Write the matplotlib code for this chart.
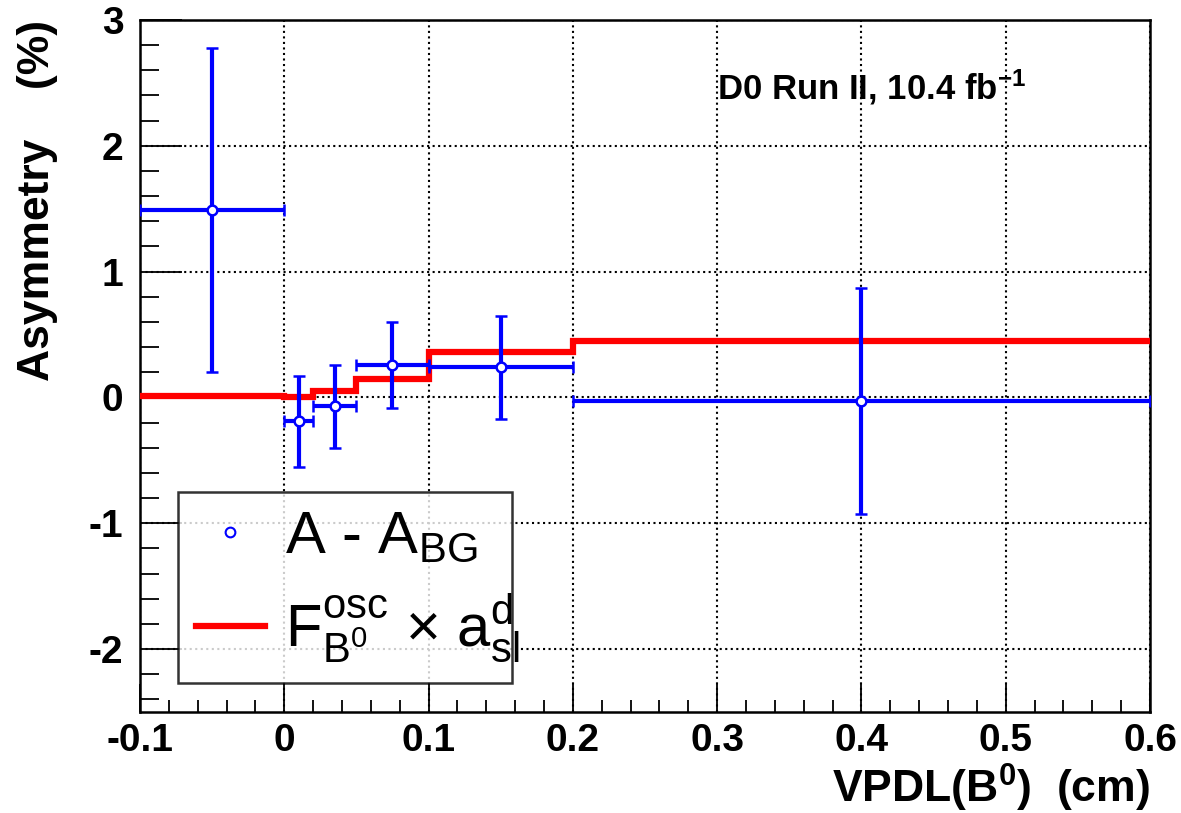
import matplotlib.pyplot as plt
from matplotlib.ticker import MultipleLocator
import numpy as np

plt.rcParams['font.family'] = ['Liberation Sans', 'DejaVu Sans']
plt.rcParams['mathtext.fontset'] = 'custom'
plt.rcParams['mathtext.rm'] = 'Liberation Sans'
plt.rcParams['mathtext.it'] = 'Liberation Sans'
plt.rcParams['mathtext.bf'] = 'Liberation Sans:bold'

# data points (A - A_BG), bins in VPDL
bin_lo = [-0.1, 0.0, 0.02, 0.05, 0.1, 0.2]
bin_hi = [0.0, 0.02, 0.05, 0.1, 0.2, 0.6]
asym = [1.49, -0.19, -0.07, 0.26, 0.24, -0.03]
asym_err = [1.29, 0.36, 0.33, 0.34, 0.41, 0.90]

# expected F_osc * a_sl^d per bin
model = [0.015, 0.0, 0.05, 0.15, 0.36, 0.45]

lo = np.array(bin_lo)
hi = np.array(bin_hi)
xc = (lo + hi) / 2
xe = (hi - lo) / 2

fig = plt.figure(figsize=(11.81, 8.13), dpi=100)
ax = fig.add_axes([0.1185, 0.1242, 0.8552, 0.8512])

# step line
edges = list(bin_lo) + [bin_hi[-1]]
ax.stairs(model, edges, color='red', lw=4.5, baseline=None, zorder=3)

ax.errorbar(xc, asym, xerr=xe, yerr=asym_err, fmt='o', color='blue',
            mfc='white', mec='blue', ms=7, mew=1.8, elinewidth=3,
            capsize=4, capthick=5, zorder=4)

ax.set_xlim(-0.1, 0.6)
ax.set_ylim(-2.5, 3)
ax.xaxis.set_major_locator(MultipleLocator(0.1))
ax.xaxis.set_minor_locator(MultipleLocator(0.02))
ax.yaxis.set_major_locator(MultipleLocator(1))
ax.yaxis.set_minor_locator(MultipleLocator(0.2))
ax.tick_params(which='both', direction='in', top=False, right=False,
               labelsize=28, width=1.3)
ax.tick_params(axis='y', which='major', length=30, pad=12)
ax.tick_params(axis='y', which='minor', length=14)
ax.tick_params(axis='x', which='major', length=20, pad=8)
ax.tick_params(axis='x', which='minor', length=9)
ax.set_xticks(np.arange(-0.1, 0.61, 0.1))
ax.set_xticklabels(['-0.1', '0', '0.1', '0.2', '0.3', '0.4', '0.5', '0.6'],
                   fontweight='bold')
ax.set_yticks([-2, -1, 0, 1, 2, 3])
ax.set_yticklabels(['-2', '-1', '0', '1', '2', '3'], fontweight='bold')
ax.grid(True, which='major', color='black', linestyle=':', linewidth=1.5)
for s in ax.spines.values():
    s.set_linewidth(1.8)

ax.set_xlabel(r'VPDL(B$^{\mathbf{0}}$)  (cm)', fontsize=32, fontweight='bold',
              loc='right', labelpad=2)
ax.set_ylabel('Asymmetry    (%)', fontsize=32, fontweight='bold',
              loc='top', labelpad=22)

ax.text(0.571, 0.885, r'D0 Run II, 10.4 fb$^{\mathbf{-1}}$', transform=ax.transAxes,
        fontsize=25, fontweight='bold')

h_pt = plt.Line2D([], [], marker='o', ls='none', mfc='white', mec='blue',
                  ms=7, mew=1.5)
h_ln = plt.Line2D([], [], color='red', lw=4.5)
leg = ax.legend([h_pt, h_ln],
                ['A - A$_{\\rm BG}$',
                 r'F$^{\rm osc}_{\rm B^0}$ $\times$ a$^{\rm d}_{\rm sl}$'],
                loc='lower left', bbox_to_anchor=(0.0376, 0.042, 0.331, 0.274),
                mode='expand', fontsize=43, frameon=True, fancybox=False,
                edgecolor='black', borderpad=0.3, handlelength=1.15,
                handletextpad=0.35, labelspacing=0.45, borderaxespad=0)
leg.get_frame().set_linewidth(1.8)

fig.savefig('out.png', dpi=100)
